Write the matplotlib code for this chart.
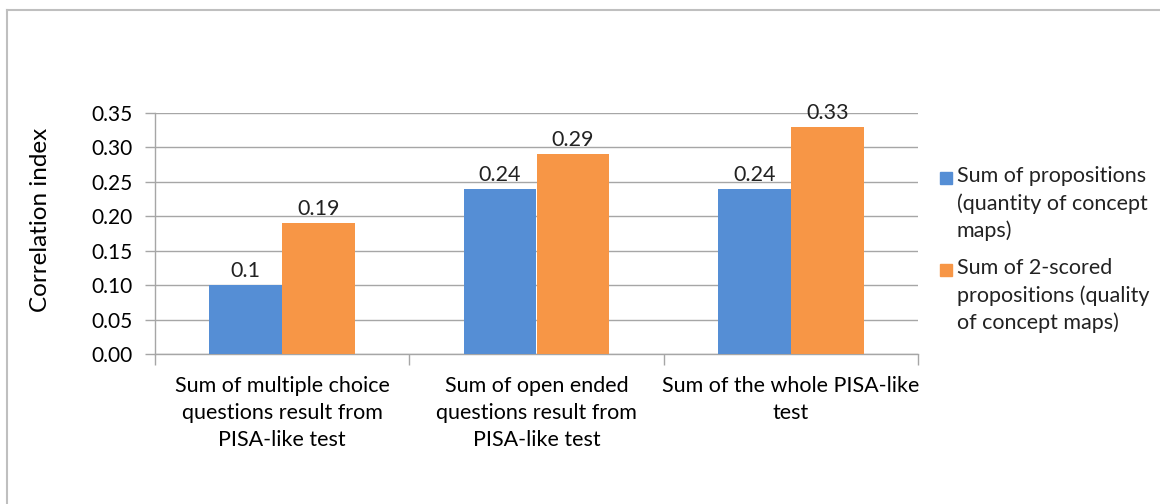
import matplotlib.pyplot as plt
import numpy as np
from matplotlib.lines import Line2D
from matplotlib.patches import Rectangle

plt.rcParams['font.family'] = ['Lato', 'DejaVu Sans']

categories = ['Sum of multiple choice\nquestions result from\nPISA-like test',
              'Sum of open ended\nquestions result from\nPISA-like test',
              'Sum of the whole PISA-like\ntest']
series_names = ['Sum of propositions\n(quantity of concept\nmaps)',
                'Sum of 2-scored\npropositions (quality\nof concept maps)']
quantity = [0.10, 0.24, 0.24]
quality = [0.19, 0.29, 0.33]
quantity_labels = ['0.1', '0.24', '0.24']
quality_labels = ['0.19', '0.29', '0.33']
yticks = [0.00, 0.05, 0.10, 0.15, 0.20, 0.25, 0.30, 0.35]

c_blue = '#558ED5'
c_orange = '#F79646'
c_grid = '#A6A6A6'
W, H = 1160, 504

fig = plt.figure(figsize=(11.6, 5.04), dpi=100)
ax = fig.add_axes([155 / W, 1 - 354 / H, (918 - 155) / W, (354 - 113) / H])

x = np.arange(len(categories))
w = 0.287
b1 = ax.bar(x - w / 2, quantity, w, color=c_blue, zorder=3)
b2 = ax.bar(x + w / 2, quality, w, color=c_orange, zorder=3)

for bars, labs in ((b1, quantity_labels), (b2, quality_labels)):
    for rect, lab in zip(bars, labs):
        ax.text(rect.get_x() + rect.get_width() / 2, rect.get_height() + 0.006, lab,
                ha='center', va='bottom', fontsize=15.5, color='#222222')

ax.set_xlim(-0.5, len(categories) - 0.5)
ax.set_ylim(0, 0.35)
ax.set_yticks(yticks)
ax.set_yticklabels(['%.2f' % v for v in yticks])
ax.yaxis.grid(True, color=c_grid, linewidth=1, zorder=0)
ax.set_axisbelow(True)

for s in ['top', 'right']:
    ax.spines[s].set_visible(False)
for s in ['left', 'bottom']:
    ax.spines[s].set_color(c_grid)
    ax.spines[s].set_linewidth(1)

ax.set_xticks(x)
ax.set_xticklabels(categories, fontsize=15.5, linespacing=1.42)
ax.tick_params(axis='x', length=0, pad=16)
ax.set_xticks(np.arange(len(categories) + 1) - 0.5, minor=True)
ax.tick_params(axis='x', which='minor', length=8, color=c_grid, width=1)
ax.tick_params(axis='y', length=7, color=c_grid, width=1, labelsize=15, pad=9)

ax.set_ylabel('Correlation index', fontsize=17.5)
ax.yaxis.set_label_coords(51 / W, 1 - 220 / H, transform=fig.transFigure)

# legend, drawn by hand so the squares sit at the first line of each entry
for name, col, ytop in zip(series_names, [c_blue, c_orange], [178, 270]):
    fig.add_artist(Rectangle((940 / W, 1 - (ytop + 6) / H), 12 / W, 12 / H,
                             transform=fig.transFigure, color=col))
    fig.text(957 / W, 1 - (ytop - 12) / H, name, fontsize=15.5, va='top', ha='left',
             linespacing=1.42, color='#222222')

# outer chart frame (top and left edges visible)
fig.add_artist(Line2D([7 / W, 7 / W], [0, 1 - 10 / H], transform=fig.transFigure,
                      color='#BFBFBF', linewidth=1.5))
fig.add_artist(Line2D([7 / W, 1], [1 - 10 / H, 1 - 10 / H], transform=fig.transFigure,
                      color='#BFBFBF', linewidth=1.5))

fig.savefig('out.png', dpi=100, facecolor='white')
